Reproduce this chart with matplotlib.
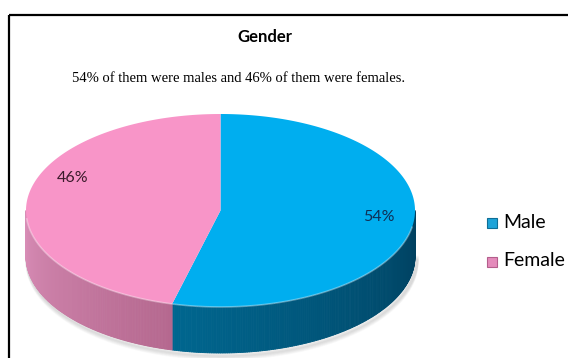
import numpy as np
import matplotlib.pyplot as plt
from matplotlib.collections import PolyCollection
from matplotlib.colors import to_rgb

labels = ["Male", "Female"]
shares = [54, 46]
title = "Gender"
note = "54% of them were males and 46% of them were females."

top_colors = ["#00AEEF", "#F895C8"]
# side shading: colour at the start and end of each slice's visible rim
side_colors = [("#00668F", "#003F5E"), ("#B5688F", "#D88DB6")]

# pie geometry in pixels
cx, cy, rx, ry, depth = 220.5, 210.5, 194.5, 96.5, 46
label_xy = [(379, 217), (73, 178)]


def rim(theta):
    t = np.radians(theta)
    return cx + rx * np.sin(t), cy - ry * np.cos(t)


fig = plt.figure(figsize=(5.68, 3.58), dpi=100)
ax = fig.add_axes([0, 0, 1, 1])
ax.set_xlim(0, 568)
ax.set_ylim(358, 0)
ax.axis("off")

# chart frame (runs off the right and bottom edges)
ax.add_patch(plt.Rectangle((8.5, 14.5), 700, 500, fill=False, lw=1.6, ec="black"))

fracs = np.array(shares) / sum(shares)
bounds = np.concatenate([[0], np.cumsum(fracs) * 360])

# soft shadow under the pie
for k in range(8):
    t = np.linspace(90, 270, 120)
    sx, sy = rim(t)
    ax.plot(sx + 1.5, sy + depth + 1 + k * 0.6, color="gray", alpha=0.04, lw=3, zorder=1)

# visible side wall
for i in range(len(shares)):
    a0, a1 = max(bounds[i], 90), min(bounds[i + 1], 270)
    if a1 <= a0:
        continue
    t = np.linspace(a0, a1, 160)
    c0, c1 = np.array(to_rgb(side_colors[i][0])), np.array(to_rgb(side_colors[i][1]))
    if i == 0:
        c_start, c_end = c1, c0   # darker toward the right edge
    else:
        c_start, c_end = c0, c1
    polys, cols = [], []
    for j in range(len(t) - 1):
        x0, y0 = rim(t[j])
        x1, y1 = rim(t[j + 1])
        polys.append([(x0, y0), (x1, y1), (x1, y1 + depth), (x0, y0 + depth)])
        f = j / (len(t) - 2)
        cols.append(c_start + (c_end - c_start) * f)
    ax.add_collection(PolyCollection(polys, facecolors=cols, edgecolors=cols, lw=0.6, zorder=2))

# top face
for i in range(len(shares)):
    t = np.linspace(bounds[i], bounds[i + 1], 200)
    x, y = rim(t)
    ax.fill(np.r_[cx, x], np.r_[cy, y], color=top_colors[i], lw=0, zorder=3)

# light bevel along the front rim
t = np.linspace(100, 265, 200)
x, y = rim(t)
ax.plot(x, y, color="white", alpha=0.35, lw=1.2, zorder=4)

for i, (lx, ly) in enumerate(label_xy):
    ax.text(lx, ly, f"{shares[i]}%", ha="center", va="center", fontsize=11.5,
            family="Lato", color=["#0F2F55", "#3A1A2A"][i], zorder=5)

ax.text(265, 37, title, ha="center", va="center", fontsize=12, family="Lato",
        fontweight="bold", color="black")
ax.text(239, 78, note, ha="center", va="center", fontsize=10.5, family="Liberation Serif",
        color="black")

legend_y = [222, 261]
marker_colors = ["#1DA3D8", "#E48BBB"]
marker_edges = ["#0E6E96", "#B45E8C"]
for i, name in enumerate(labels):
    ax.plot(491.5, legend_y[i] + 0.5, marker="s", ms=6.5, color=marker_colors[i],
            mec=marker_edges[i], mew=0.8)
    ax.text(503, legend_y[i], name, ha="left", va="center", fontsize=14, family="Lato",
            color="black")

fig.savefig("out.png", dpi=100)
